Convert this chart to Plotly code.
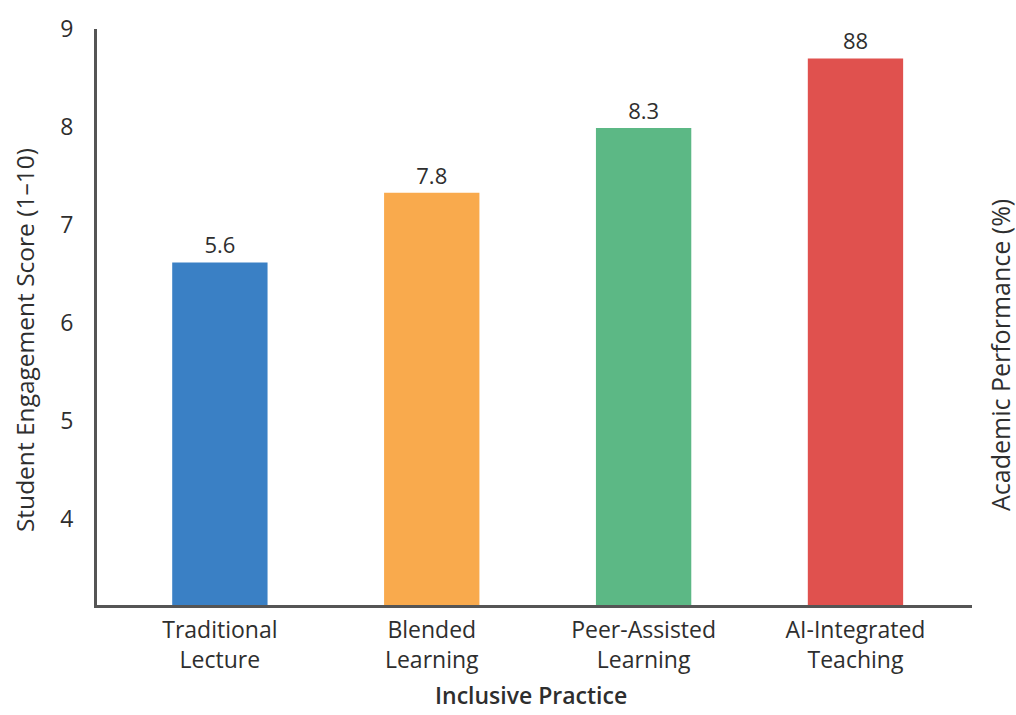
import plotly.graph_objects as go

categories = ["Traditional<br>Lecture", "Blended<br>Learning", "Peer-Assisted<br>Learning", "AI-Integrated<br>Teaching"]
bar_heights = [6.62, 7.33, 7.99, 8.70]
bar_labels = ["5.6", "7.8", "8.3", "88"]
colors = ["#3a80c5", "#f9aa4d", "#5cb885", "#e0514e"]
y_ticks = [4, 5, 6, 7, 8, 9]

font_family = "Open Sans, Noto Sans, sans-serif"
text_color = "#2e2e2e"

fig = go.Figure()
fig.add_trace(go.Bar(
    x=list(range(len(categories))),
    y=bar_heights,
    marker=dict(color=colors, line=dict(width=0)),
    width=0.45,
    text=bar_labels,
    textposition="outside",
    textfont=dict(size=22, color=text_color, family=font_family),
    cliponaxis=False,
))

fig.update_layout(
    width=1016, height=715,
    margin=dict(l=97, r=44, t=27, b=110),
    paper_bgcolor="white", plot_bgcolor="white",
    showlegend=False,
    font=dict(family=font_family, color=text_color),
    xaxis=dict(
        tickmode="array",
        tickvals=list(range(len(categories))),
        ticktext=categories,
        range=[-0.58, 3.55],
        showline=True, linecolor="#555555", linewidth=3,
        showgrid=False, zeroline=False, ticks="",
        tickfont=dict(size=23, color=text_color),
        ticklabelstandoff=2,
    ),
    yaxis=dict(
        range=[3.126, 9],
        tickmode="array", tickvals=y_ticks,
        showline=True, linecolor="#555555", linewidth=3,
        showgrid=False, zeroline=False, ticks="",
        tickfont=dict(size=23, color=text_color),
        ticklabelstandoff=16,
    ),
    annotations=[
        dict(
            text="Student Engagement Score (1–10)", textangle=-90,
            xref="paper", yref="paper", x=-0.0834, y=0.46,
            xanchor="center", yanchor="middle", showarrow=False,
            font=dict(size=24.5, color=text_color),
        ),
        dict(
            text="Academic Performance (%)", textangle=-90,
            xref="paper", yref="paper", x=1.032, y=0.434,
            xanchor="center", yanchor="middle", showarrow=False,
            font=dict(size=25, color=text_color),
        ),
        dict(
            text="Inclusive Practice",
            xref="paper", yref="paper", x=0.496, y=-0.156,
            xanchor="center", yanchor="middle", showarrow=False,
            font=dict(size=23, color=text_color, weight=600),
        ),
    ],
)

fig.write_html("out.html")
